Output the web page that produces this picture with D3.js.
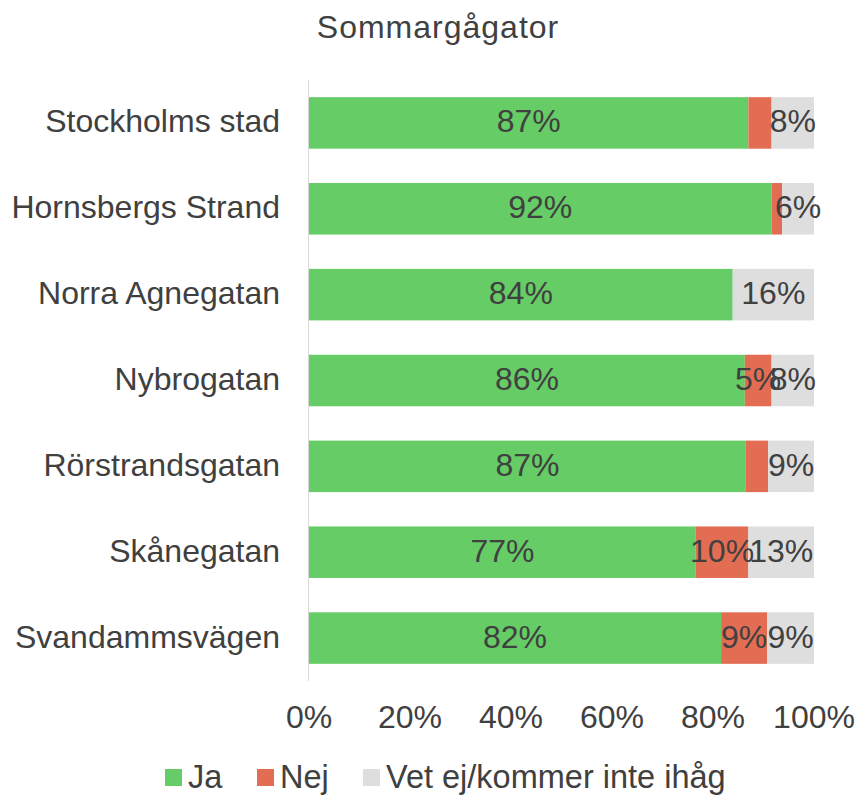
<!DOCTYPE html>
<html><head><meta charset="utf-8">
<script src="https://cdn.jsdelivr.net/npm/d3@7"></script>
<style>body{margin:0;background:#fff}svg{display:block}text{font-family:"Liberation Sans",Arial,sans-serif;fill:#404040}</style>
</head><body><svg id="c" width="858" height="795"></svg>
<script>
const title = "Sommargågator";
const categories = ["Stockholms stad","Hornsbergs Strand","Norra Agnegatan","Nybrogatan","Rörstrandsgatan","Skånegatan","Svandammsvägen"];
const seriesNames = ["Ja","Nej","Vet ej/kommer inte ihåg"];
const ja    = [87.0, 91.6, 83.9, 86.3, 86.5, 76.6, 81.6];
const nej   = [4.6, 2.1, 0, 5.3, 4.4, 10.4, 9.1];
const vetEj = [8.4, 6.3, 16.1, 8.4, 9.1, 13.0, 9.3];
const ticks = [0,20,40,60,80,100];
const colors = ["#66cc66","#e36d53","#dedede"];

const svg = d3.select("#c");
const fs = 32;
const x = d3.scaleLinear().domain([0,100]).range([309,814]);
const y = d3.scaleBand().domain(categories).range([80,681]).paddingInner(0.4).paddingOuter(0.2);

const rows = categories.map((c,i)=>({cat:c, Ja:ja[i], Nej:nej[i], Vet:vetEj[i]}));
const stack = d3.stack().keys(["Ja","Nej","Vet"])(rows);

svg.append("text").attr("x",438).attr("y",30).attr("text-anchor","middle")
  .attr("dominant-baseline","middle").style("font-size",fs+"px").style("letter-spacing","1px").text(title);

const g = svg.append("g");
stack.forEach((s,si)=>{
  g.selectAll(null).data(s).enter().append("rect")
    .attr("x",d=>x(d[0])).attr("width",d=>x(d[1])-x(d[0]))
    .attr("y",d=>y(d.data.cat)).attr("height",y.bandwidth())
    .attr("fill",colors[si]);
});
// axis line
svg.append("line").attr("x1",308.5).attr("x2",308.5).attr("y1",80).attr("y2",681)
  .attr("stroke","#d9d9d9").attr("stroke-width",1);

stack.forEach((s,si)=>{
  g.selectAll(null).data(s.filter(d=>d[1]-d[0]>=5)).enter().append("text")
    .attr("x",d=>(x(d[0])+x(d[1]))/2).attr("y",d=>y(d.data.cat)+y.bandwidth()/2+1)
    .attr("text-anchor","middle").attr("dominant-baseline","middle")
    .style("font-size",fs+"px").text(d=>Math.round(d[1]-d[0])+"%");
});

// category labels
svg.selectAll(null).data(categories).enter().append("text")
  .attr("x",280).attr("y",d=>y(d)+y.bandwidth()/2+1).attr("text-anchor","end")
  .attr("dominant-baseline","middle").style("font-size",fs+"px").text(d=>d);

// x tick labels
svg.selectAll(null).data(ticks).enter().append("text")
  .attr("x",d=>x(d)).attr("y",720).attr("text-anchor","middle")
  .attr("dominant-baseline","middle").style("font-size",fs+"px").text(d=>d+"%");

// legend
const legX = [165,257,363];
seriesNames.forEach((n,i)=>{
  svg.append("rect").attr("x",legX[i]).attr("y",769).attr("width",17).attr("height",17).attr("fill",colors[i]);
  svg.append("text").attr("x",legX[i]+23).attr("y",779).attr("dominant-baseline","middle")
    .style("font-size","32.5px").text(n);
});
</script></body></html>
